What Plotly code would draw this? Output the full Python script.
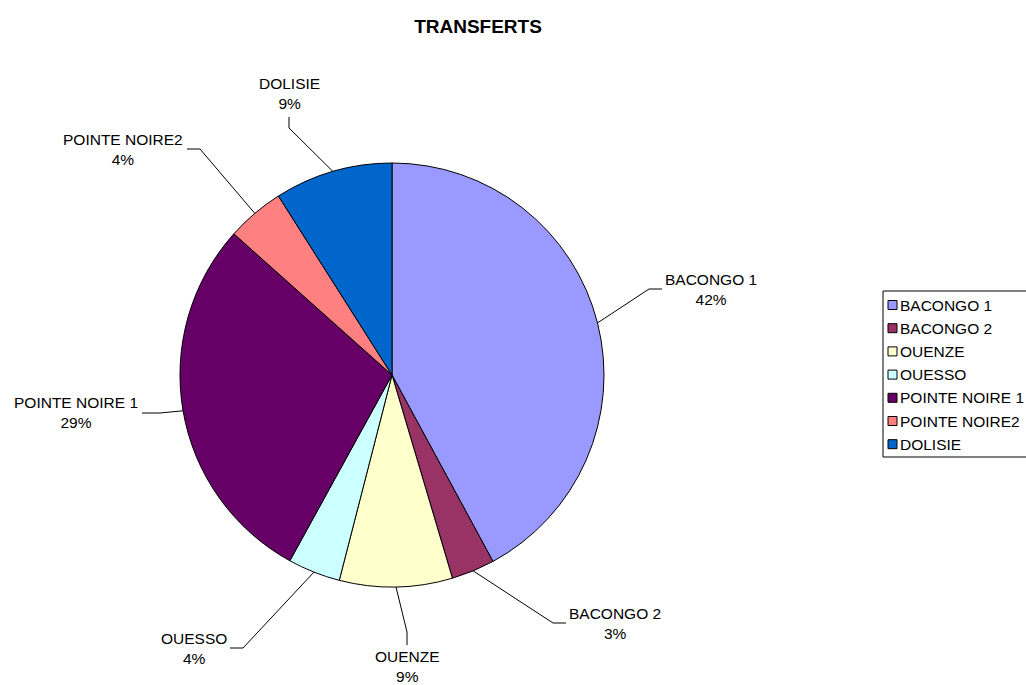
import math
import plotly.graph_objects as go

# ---- data ----
categories = ["BACONGO 1", "BACONGO 2", "OUENZE", "OUESSO", "POINTE NOIRE 1", "POINTE NOIRE2", "DOLISIE"]
values = [42.1, 3.3, 8.6, 4.0, 28.6, 4.4, 9.0]
colors = ["#9999FF", "#993366", "#FFFFCC", "#CCFFFF", "#660066", "#FF8080", "#0066CC"]
title_text = "TRANSFERTS"

# ---- layout (pixels) ----
W, H = 1026, 685
CX, CY, R = 392, 375, 212
FONT = "Arial, 'Liberation Sans', sans-serif"
FS = 15.5

# label layout: elbow point, end point of the leader, text anchor and alignment
label_layout = [
    dict(elbow=(649, 289), end=(662, 289), text=(663, 289), xa="left", ya="middle"),
    dict(elbow=(553, 623), end=(566, 623), text=(567, 623), xa="left", ya="middle"),
    dict(elbow=(407, 632), end=(407, 645), text=(407, 646), xa="center", ya="top"),
    dict(elbow=(243, 648), end=(230, 648), text=(229, 648), xa="right", ya="middle"),
    dict(elbow=(160, 413), end=(142, 413), text=(140, 413), xa="right", ya="middle"),
    dict(elbow=(200, 149), end=(187, 149), text=(185, 149), xa="right", ya="middle"),
    dict(elbow=(289, 128), end=(289, 117), text=(289, 114), xa="center", ya="bottom"),
]

# legend box layout
LEG_X0, LEG_Y0, LEG_Y1 = 883, 291, 457
LEG_ITEM_Y0, LEG_STEP = 305, 23.2


def px(x):
    return x / W


def py(y):
    return 1 - y / H


fig = go.Figure(go.Pie(
    labels=categories,
    values=values,
    sort=False,
    direction="clockwise",
    rotation=0,
    marker=dict(colors=colors, line=dict(color="black", width=1)),
    textinfo="none",
    hoverinfo="label+percent",
    showlegend=False,
    domain=dict(x=[px(CX - R), px(CX + R)], y=[py(CY + R), py(CY - R)]),
))

total = sum(values)
cum = 0.0
shapes, annotations = [], []
for cat, v, lay in zip(categories, values, label_layout):
    mid = (cum + v / 2) / total * 2 * math.pi
    cum += v
    sx = CX + R * math.sin(mid)
    sy = CY - R * math.cos(mid)
    ex, ey = lay["elbow"]
    fx, fy = lay["end"]
    path = f"M {px(sx)},{py(sy)} L {px(ex)},{py(ey)} L {px(fx)},{py(fy)}"
    shapes.append(dict(type="path", path=path, xref="paper", yref="paper",
                       line=dict(color="black", width=1)))
    pct = round(v / total * 100)
    tx, ty = lay["text"]
    annotations.append(dict(
        x=px(tx), y=py(ty), xref="paper", yref="paper",
        text=f"{cat}<br>{pct}%", showarrow=False, align="center",
        xanchor=lay["xa"], yanchor=lay["ya"],
        font=dict(family=FONT, size=FS, color="black"),
    ))

# legend (box, colour squares and names, built from the category list)
shapes.append(dict(type="rect", xref="paper", yref="paper",
                   x0=px(LEG_X0), x1=px(W + 5), y0=py(LEG_Y1), y1=py(LEG_Y0),
                   line=dict(color="black", width=1), fillcolor="white", layer="below"))
for i, (cat, col) in enumerate(zip(categories, colors)):
    yc = LEG_ITEM_Y0 + i * LEG_STEP
    shapes.append(dict(type="rect", xref="paper", yref="paper",
                       x0=px(888), x1=px(897), y0=py(yc + 4.5), y1=py(yc - 4.5),
                       line=dict(color="black", width=1), fillcolor=col))
    annotations.append(dict(x=px(898), y=py(yc), xref="paper", yref="paper",
                            text=cat, showarrow=False, xanchor="left", yanchor="middle",
                            font=dict(family=FONT, size=FS, color="black")))

fig.update_layout(
    width=W, height=H,
    margin=dict(l=0, r=0, t=0, b=0, pad=0),
    paper_bgcolor="white", plot_bgcolor="white",
    title=dict(text=f"<b>{title_text}</b>", x=px(478), y=py(26), xanchor="center", yanchor="middle",
               font=dict(family=FONT, size=19, color="black")),
    shapes=shapes,
    annotations=annotations,
    showlegend=False,
)

fig.write_html("out.html", config={"displayModeBar": False},
               post_script="document.body.style.margin='0';document.body.style.overflow='hidden';")
